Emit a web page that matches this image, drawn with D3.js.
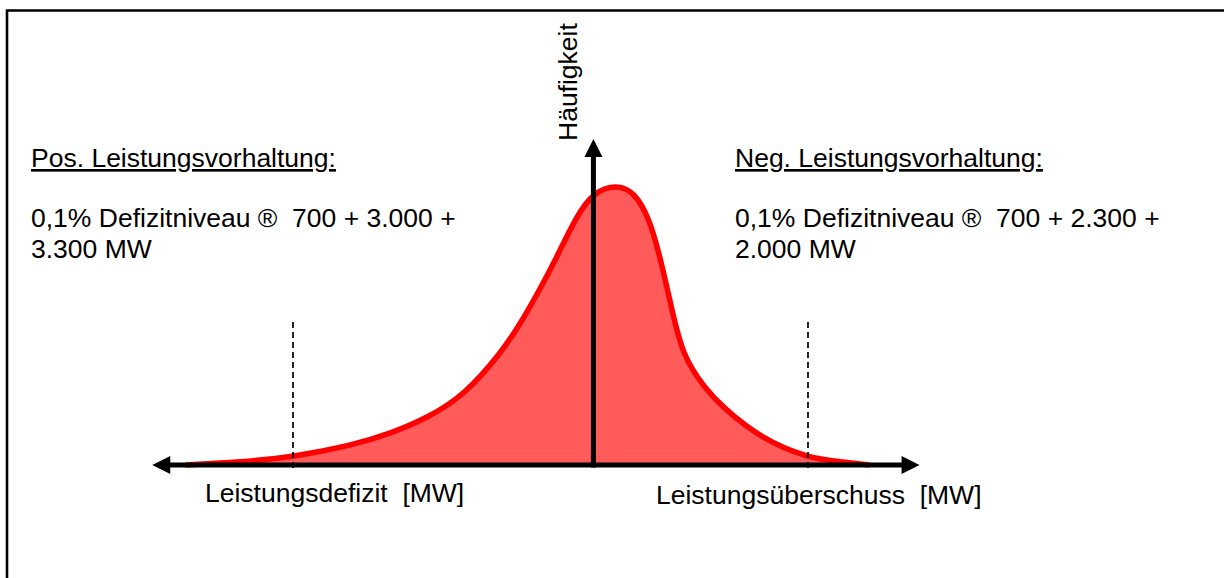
<!DOCTYPE html>
<html>
<head>
<meta charset="utf-8">
<script src="https://cdn.jsdelivr.net/npm/d3@7"></script>
<style>
  html, body { margin: 0; padding: 0; background: #fff; }
  svg { display: block; }
  text { font-family: "Liberation Sans", Arial, sans-serif; fill: #000; white-space: pre; }
</style>
</head>
<body>
<div id="chart"></div>
<script>
// ---- data ----
// deviation in MW (negative = Leistungsdefizit, positive = Leistungsüberschuss)
const deviationMW = [-9500, -8250, -7000, -5600, -4730, -3870, -3000, -2140, -1720, -1280, -860, -420, 0, 540, 950, 1300, 1560, 1820, 2070, 2590, 3030, 3890, 4990, 5780, 6430];
// relative frequency (peak ≈ 1)
const frequency   = [0, 0.010, 0.028, 0.071, 0.112, 0.167, 0.249, 0.402, 0.498, 0.616, 0.737, 0.879, 0.972, 0.998, 0.972, 0.879, 0.737, 0.559, 0.391, 0.274, 0.203, 0.096, 0.025, 0.011, 0];
// 0.1% deficit levels: positive reserve 700+3000+3300, negative reserve 700+2300+2000
const posReserveParts = [700, 3000, 3300];
const negReserveParts = [700, 2300, 2000];
const axisExtentMW = [-10280, 7600];
const axisTopFreq = 1.16;

const labels = {
  posTitle: "Pos. Leistungsvorhaltung:",
  posLine1: "0,1% Defizitniveau \u00AE  700 + 3.000 +",
  posLine2: "3.300 MW",
  negTitle: "Neg. Leistungsvorhaltung:",
  negLine1: "0,1% Defizitniveau \u00AE  700 + 2.300 +",
  negLine2: "2.000 MW",
  yTitle: "H\u00E4ufigkeit",
  xLeft: "Leistungsdefizit  [MW]",
  xRight: "Leistungs\u00FCberschuss  [MW]"
};

// ---- drawing ----
const W = 1224, H = 578;
const svg = d3.select("#chart").append("svg").attr("width", W).attr("height", H);

const posReserve = d3.sum(posReserveParts);
const negReserve = d3.sum(negReserveParts);

const x = d3.scaleLinear().domain([-posReserve, negReserve]).range([293, 808]);
const y = d3.scaleLinear().domain([0, 1]).range([465, 184]);

// frame (cut off right/bottom)
svg.append("path")
  .attr("d", `M7,${H} L7,10.5 L${W},10.5`)
  .attr("fill", "none").attr("stroke", "#000").attr("stroke-width", 2.6);

const pts = deviationMW.map((d, i) => [d, frequency[i]]);
const curve = d3.curveBasis;

svg.append("path")
  .datum(pts)
  .attr("fill", "#ff5b5b")
  .attr("d", d3.area().x(d => x(d[0])).y0(y(0)).y1(d => y(d[1])).curve(curve));

svg.append("path")
  .datum(pts)
  .attr("fill", "none")
  .attr("stroke", "#ff0000")
  .attr("stroke-width", 5.5)
  .attr("stroke-linejoin", "round")
  .attr("d", d3.line().x(d => x(d[0])).y(d => y(d[1])).curve(curve));

// dashed reserve lines
[-posReserve, negReserve].forEach(v => {
  svg.append("line")
    .attr("x1", x(v)).attr("x2", x(v))
    .attr("y1", 322).attr("y2", y(0) + 3)
    .attr("stroke", "#000").attr("stroke-width", 1.7)
    .attr("stroke-dasharray", "6,4");
});

// axes with arrows
const x0 = x(0), yb = y(0);
const xl = x(axisExtentMW[0]), xr = x(axisExtentMW[1]), yt = y(axisTopFreq);
const ah = 18, aw = 9;
svg.append("line").attr("x1", xl + ah - 2).attr("x2", xr - ah + 2).attr("y1", yb).attr("y2", yb)
  .attr("stroke", "#000").attr("stroke-width", 5);
svg.append("path").attr("d", `M${xl},${yb} L${xl + ah},${yb - aw} L${xl + ah},${yb + aw} Z`).attr("fill", "#000");
svg.append("path").attr("d", `M${xr},${yb} L${xr - ah},${yb - aw} L${xr - ah},${yb + aw} Z`).attr("fill", "#000");
svg.append("line").attr("x1", x0).attr("x2", x0).attr("y1", yb + 2.5).attr("y2", yt + ah - 2)
  .attr("stroke", "#000").attr("stroke-width", 5);
svg.append("path").attr("d", `M${x0},${yt} L${x0 - aw},${yt + ah} L${x0 + aw},${yt + ah} Z`).attr("fill", "#000");

// texts
const fs = 26.5;
function txt(s, tx, ty, opts = {}) {
  const t = svg.append("text").attr("x", tx).attr("y", ty).attr("font-size", fs).text(s);
  if (opts.underline) t.attr("text-decoration", "underline");
  return t;
}
txt(labels.posTitle, 31, 167, { underline: true });
txt(labels.posLine1, 31, 227);
txt(labels.posLine2, 31, 258);
txt(labels.negTitle, 735, 167, { underline: true });
txt(labels.negLine1, 735, 227);
txt(labels.negLine2, 735, 258);
txt(labels.xLeft, 205, 502);
txt(labels.xRight, 656, 504);

svg.append("text")
  .attr("transform", `translate(577,141) rotate(-90)`)
  .attr("font-size", fs)
  .text(labels.yTitle);
</script>
</body>
</html>
